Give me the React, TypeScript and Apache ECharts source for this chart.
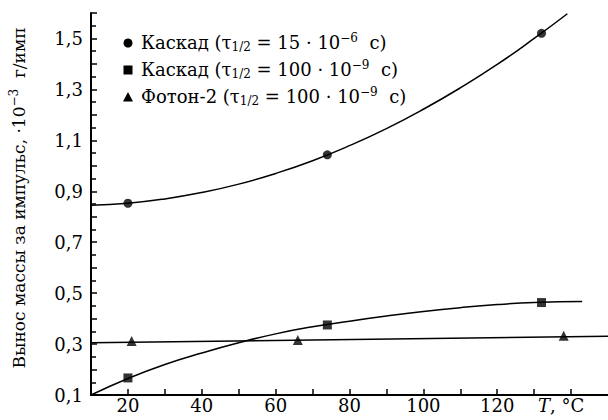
import React, { useEffect, useRef } from "react";
import * as echarts from "echarts";

const cascade1Points = [[20, 0.853], [74, 1.043], [132, 1.52]];
const cascade1Curve = [[10, 0.845], [20, 0.853], [30, 0.87], [40, 0.895], [50, 0.928], [60, 0.97], [70, 1.02], [80, 1.079], [90, 1.146], [100, 1.222], [110, 1.306], [120, 1.398], [130, 1.5], [139, 1.597]];
const cascade2Points = [[20, 0.167], [74, 0.375], [132, 0.463]];
const cascade2Curve = [[10, 0.1], [20, 0.165], [30, 0.22], [40, 0.265], [50, 0.305], [60, 0.34], [70, 0.368], [80, 0.39], [90, 0.41], [100, 0.428], [110, 0.443], [120, 0.455], [130, 0.463], [143, 0.467]];
const photonPoints = [[21, 0.312], [66, 0.316], [138, 0.333]];
const photonLine = [[10, 0.305], [150, 0.331]];

const legendLabels = [
  "{n|Каскад (τ}{sub|1/2}{n| = 15 · 10}{sup|−6}{n|  с)}",
  "{n|Каскад (τ}{sub|1/2}{n| = 100 · 10}{sup|−9}{n|  с)}",
  "{n|Фотон-2 (τ}{sub|1/2}{n| = 100 · 10}{sup|−9}{n|  с)}",
];
const yAxisName = "{m|Вынос массы за импульс, ·10}{sup|−3}{m|  г/имп}";
const xAxisUnit = "{i|T}{n|, °C}";

const FONT = "DejaVu Serif";
const FS = 18;

const richText = {
  n: { fontFamily: FONT, fontSize: FS, color: "#000" },
  m: { fontFamily: FONT, fontSize: 17, color: "#000" },
  i: { fontFamily: FONT, fontSize: FS, fontStyle: "italic", color: "#000" },
  sub: { fontFamily: FONT, fontSize: 12, color: "#000", padding: [9, 0, 0, 0] },
  sup: { fontFamily: FONT, fontSize: 12, color: "#000", padding: [0, 0, 9, 0] },
};

export default function App() {
  const ref = useRef<HTMLDivElement>(null);
  useEffect(() => {
    const chart = echarts.init(ref.current!, null, { renderer: "svg" });
    const lineStyle = { color: "#000", width: 1.5 };
    const rowY = [43, 70, 97];
    const markerX = 128;
    const textX = 141;
    chart.setOption({
      animation: false,
      backgroundColor: "#fff",
      textStyle: { fontFamily: FONT },
      grid: { left: 82, right: 0, top: 13, bottom: 25 },
      graphic: [
        { type: "circle", shape: { cx: markerX, cy: rowY[0], r: 4.5 }, style: { fill: "#000" } },
        { type: "rect", shape: { x: markerX - 4.5, y: rowY[1] - 4.5, width: 9, height: 9 }, style: { fill: "#000" } },
        {
          type: "polygon",
          shape: { points: [[markerX - 5, rowY[2] + 4.5], [markerX + 5, rowY[2] + 4.5], [markerX, rowY[2] - 5]] },
          style: { fill: "#000" },
        },
        ...legendLabels.map((t, i) => ({
          type: "text",
          x: textX,
          y: rowY[i] - 1,
          style: { text: t, rich: richText, verticalAlign: "middle", align: "left", font: `${FS}px ${FONT}` },
        })),
      ],
      xAxis: {
        type: "value",
        min: 10,
        max: 150,
        interval: 10,
        splitLine: { show: false },
        axisLine: { lineStyle: { color: "#000", width: 2 } },
        axisTick: { inside: true, length: 6, lineStyle: { color: "#000", width: 1.5 } },
        axisLabel: {
          margin: 1,
          fontFamily: FONT,
          fontSize: FS,
          color: "#000",
          showMaxLabel: false,
          formatter: (v: number) => {
            if (v === 140) return xAxisUnit;
            if (v >= 20 && v <= 120 && v % 20 === 0) return String(v);
            return "";
          },
          rich: {
            ...richText,
            n: { ...richText.n, padding: [0, 20, 0, 0] },
          },
        },
      },
      yAxis: {
        type: "value",
        min: 0.1,
        max: 1.6,
        interval: 0.1,
        splitLine: { show: false },
        axisLine: { lineStyle: { color: "#000", width: 2 } },
        axisTick: { inside: true, length: 6, lineStyle: { color: "#000", width: 1.5 } },
        minorTick: { show: true, splitNumber: 2, length: 5, lineStyle: { color: "#000", width: 1.5 } },
        minorSplitLine: { show: false },
        axisLabel: {
          margin: 8,
          fontFamily: FONT,
          fontSize: FS,
          color: "#000",
          formatter: (v: number) => (Math.round(v * 10) % 2 === 1 ? v.toFixed(1).replace(".", ",") : ""),
        },
        name: yAxisName,
        nameLocation: "middle",
        nameRotate: 90,
        nameGap: 62,
        nameTextStyle: { fontFamily: FONT, fontSize: 17, color: "#000", rich: richText, padding: [0, 0, 0, 12] },
      },
      series: [
        { type: "line", data: cascade1Curve, smooth: true, showSymbol: false, lineStyle, silent: true },
        { type: "line", data: cascade2Curve, smooth: true, showSymbol: false, lineStyle, silent: true },
        { type: "line", data: photonLine, showSymbol: false, lineStyle, silent: true },
        { name: "Каскад (15·10⁻⁶ с)", type: "scatter", data: cascade1Points, symbol: "circle", symbolSize: 9, itemStyle: { color: "#000" }, z: 5 },
        { name: "Каскад (100·10⁻⁹ с)", type: "scatter", data: cascade2Points, symbol: "rect", symbolSize: 9, itemStyle: { color: "#000" }, z: 5 },
        { name: "Фотон-2", type: "scatter", data: photonPoints, symbol: "triangle", symbolSize: 10, itemStyle: { color: "#000" }, z: 5 },
      ],
    });
    return () => chart.dispose();
  }, []);
  return <div ref={ref} style={{ width: 608, height: 420, position: "absolute", left: 0, top: 0 }} />;
}
